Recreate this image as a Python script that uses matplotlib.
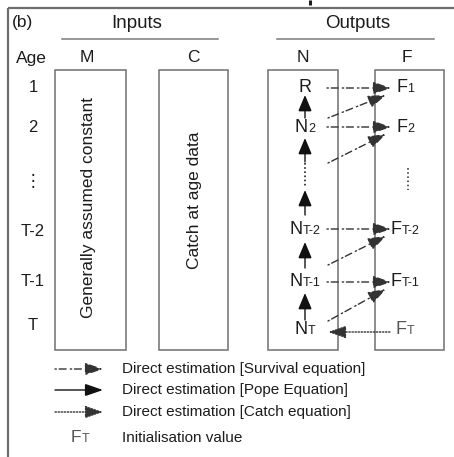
import matplotlib
matplotlib.use("Agg")
import matplotlib.pyplot as plt
from matplotlib.patches import Rectangle, FancyArrowPatch
from matplotlib.offsetbox import TextArea, HPacker, AnnotationBbox

plt.rcParams["font.family"] = ["Liberation Sans", "DejaVu Sans"]

# ---- diagram content ----
panel_tag = "(b)"
group_titles = ["Inputs", "Outputs"]
column_titles = ["M", "C", "N", "F"]
age_labels = ["1", "2", "\u22ee", "T-2", "T-1", "T"]
box_texts = ["Generally assumed constant", "Catch at age data"]
n_labels = [("R", ""), ("N", "2"), None, ("N", "T-2"), ("N", "T-1"), ("N", "T")]
f_labels = [("F", "1"), ("F", "2"), None, ("F", "T-2"), ("F", "T-1"), ("F", "T")]
legend_texts = ["Direct estimation [Survival equation]",
                "Direct estimation [Pope Equation]",
                "Direct estimation [Catch equation]",
                "Initialisation value"]

# ---- layout (pixels, y downwards) ----
W, H = 454, 457
row_y = [88, 127, 172, 229, 282, 330]
age_y = [88, 128, 182, 232, 282, 326]
col_x = [87, 193, 303, 407]
box_x = [(55, 126), (159, 228), (268, 338), (375, 444)]
box_top, box_bot = 70, 350
n_x, f_x = 305, 405

TXT = "#1c1c1c"
GREY = "#7a7a7a"

fig = plt.figure(figsize=(W / 100, H / 100), dpi=100)
ax = fig.add_axes([0, 0, 1, 1])
ax.set_xlim(0, W)
ax.set_ylim(H, 0)
ax.axis("off")

# outer frame (only top and left edges are visible)
ax.plot([8, W], [8, 8], color="#6e6e6e", lw=1.6, solid_capstyle="butt")
ax.plot([8, 8], [8, H], color="#6e6e6e", lw=1.6, solid_capstyle="butt")
# tail of a cut-off glyph above the frame
ax.plot([310, 310], [0, 5], color=TXT, lw=2.2, solid_capstyle="butt")

ax.text(12, 23, panel_tag, fontsize=12.5, color=TXT, va="center")
ax.text(137, 23, group_titles[0], fontsize=13.5, color=TXT, ha="center", va="center")
ax.text(358, 23, group_titles[1], fontsize=13.5, color=TXT, ha="center", va="center")
ax.plot([62, 218], [39, 39], color=GREY, lw=1.1)
ax.plot([277, 434], [39, 39], color=GREY, lw=1.1)

ax.text(31, 58, "Age", fontsize=12.5, color=TXT, ha="center", va="center")
for x, t in zip(col_x, column_titles):
    ax.text(x, 58, t, fontsize=12.5, color=TXT, ha="center", va="center")

for y, t in zip(age_y, age_labels):
    ax.text(33, y, t, fontsize=12, color=TXT, ha="center", va="center")

for (x0, x1) in box_x:
    ax.add_patch(Rectangle((x0, box_top), x1 - x0, box_bot - box_top,
                           fill=False, ec=GREY, lw=1.2))

ax.text(88, 207, box_texts[0], fontsize=12.5, color=TXT, rotation=90,
        ha="center", va="center")
ax.text(194, 200, box_texts[1], fontsize=12.5, color=TXT, rotation=90,
        ha="center", va="center")


def node(x, y, main, sub, color=TXT, size=13, sub_size=9):
    parts = [TextArea(main, textprops=dict(fontsize=size, color=color))]
    if sub:
        parts.append(TextArea(sub, textprops=dict(fontsize=sub_size, color=color)))
    pack = HPacker(children=parts, align="baseline", pad=0, sep=0)
    ax.add_artist(AnnotationBbox(pack, (x, y), frameon=False, pad=0,
                                 box_alignment=(0.5, 0.5)))


for y, lab in zip(row_y, n_labels):
    if lab:
        node(n_x, y, *lab)
for i, (y, lab) in enumerate(zip(row_y, f_labels)):
    if lab:
        node(f_x, y, *lab, color="#555555" if i == len(f_labels) - 1 else TXT)
# ellipsis in F column
ax.plot([408, 408], [168, 190], color="#444444", lw=1.2, ls=(0, (1, 1.5)))
# ellipsis in N column
ax.plot([n_x, n_x], [163, 187], color="#222222", lw=1.2, ls=(0, (1, 1.5)))


def arrow(p0, p1, ls, color, lw=1.0, hl=1.1, hw=0.38):
    a = FancyArrowPatch(p0, p1, arrowstyle=f"-|>,head_length={hl},head_width={hw}",
                        mutation_scale=10, color=color, lw=lw, linestyle=ls,
                        shrinkA=0, shrinkB=0)
    a.set_joinstyle("miter")
    ax.add_patch(a)
    return a


SURV = (0, (1, 2, 5, 3))
CATCH = (0, (1, 1.2))

# survival equation: horizontal N -> F
for i in [0, 1, 3, 4]:
    arrow((327, row_y[i]), (391, row_y[i]), SURV, "#333333")
# survival equation: diagonal from next age to F
diag_from = [118, 163, None, 265, 321]
for i in [0, 1, 3, 4]:
    arrow((328, diag_from[i]), (386, row_y[i] + 7), SURV, "#333333")

# Pope equation: vertical N(a+1) -> N(a)
pope = [(118, 95), (162, 138), (215, 190), (268, 242), (320, 293)]
for y0, y1 in pope:
    arrow((n_x, y0), (n_x, y1), "-", "#111111", lw=1.0, hl=1.0, hw=0.42)

# catch equation: F_T -> N_T
arrow((390, row_y[5] + 2), (328, row_y[5] + 2), CATCH, "#333333")

# legend
leg_y = [369, 390, 412, 438]
arrow((55, leg_y[0]), (103, leg_y[0]), SURV, "#333333")
arrow((55, leg_y[1]), (103, leg_y[1]), "-", "#111111")
arrow((55, leg_y[2]), (103, leg_y[2]), CATCH, "#333333")
node(80, leg_y[3], "F", "T", color="#555555", size=12.5)
for y, t in zip(leg_y, legend_texts):
    ax.text(122, y, t, fontsize=11, color=TXT, va="center")

fig.savefig("out.png", dpi=100)
